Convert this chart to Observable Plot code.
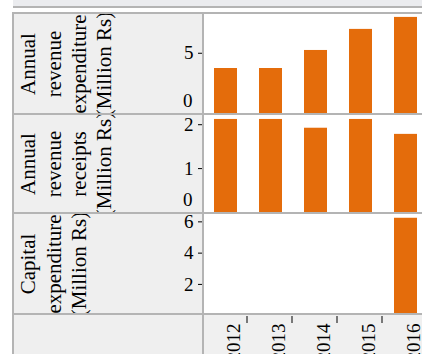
<!DOCTYPE html>
<html>
<head>
<meta charset="utf-8">
<script src="https://cdn.jsdelivr.net/npm/d3@7"></script>
<script src="https://cdn.jsdelivr.net/npm/@observablehq/plot@0.6"></script>
<style>
  html, body { margin: 0; padding: 0; background: white; }
  #wrap { position: relative; width: 422px; height: 354px; overflow: hidden; background: white; font-family: "Liberation Serif", serif; }
  .abs { position: absolute; }
  .line { position: absolute; background: #b4b4b4; }
</style>
</head>
<body>
<div id="wrap"></div>
<script>
// ---- data ----
const years = ["2012", "2013", "2014", "2015", "2016"];
const revenueExpenditure = [3.74, 3.74, 5.23, 6.97, 7.96];
const revenueReceipts = [2.12, 2.12, 1.92, 2.12, 1.78];
const capitalExpenditure = [0, 0, 0, 0, 6.23];
const panelLabels = [
  "Annual\nrevenue\nexpenditure\n(Million Rs)",
  "Annual\nrevenue\nreceipts\n(Million Rs)",
  "Capital\nexpenditure\n(Million Rs)"
];
const panelTicks = [[5], [1, 2], [2, 4, 6]];
const panelZeroLabel = [true, true, false];
const panelDomainMax = [8.2, 2.21, 6.47];

const orange = "#e46c0b";
const wrap = document.getElementById("wrap");

function box(cls, css) {
  const d = document.createElement("div");
  d.className = cls;
  Object.assign(d.style, css);
  wrap.appendChild(d);
  return d;
}

// backgrounds
box("abs", {left: "13px", top: "0px", width: "409px", height: "6px", background: "#ebecef"});
box("abs", {left: "13px", top: "14px", width: "190px", height: "340px", background: "#efefef"});
box("abs", {left: "203px", top: "315px", width: "219px", height: "39px", background: "#f0f0f0"});

const xScale = {type: "band", domain: years, range: [202.75, 427.75], paddingInner: 0.5, paddingOuter: 0.25, axis: null};
const baseStyle = {background: "transparent", fontFamily: "Liberation Serif", fontSize: "19px", color: "black", overflow: "hidden"};

const series = [revenueExpenditure, revenueReceipts, capitalExpenditure];
const geom = [
  {top: 14, height: 99, bottom: 99.3},
  {top: 115, height: 97, bottom: 97},
  {top: 214, height: 99, bottom: 101.2}
];

series.forEach((vals, i) => {
  const data = years.map((y, j) => ({year: y, value: vals[j]}));
  const marks = [
    Plot.barY(data.filter(d => d.value > 0), {x: "year", y: "value", fill: orange}),
    Plot.axisY(panelTicks[i], {anchor: "left", tickSize: 5, tickPadding: 5, fontSize: 19, label: null}),
    Plot.text([panelLabels[i]], {
      frameAnchor: "left", dx: -186, rotate: -90, textAnchor: "middle",
      lineAnchor: "top", lineHeight: 1.2, fontSize: 21
    })
  ];
  if (panelZeroLabel[i]) {
    marks.push(Plot.text([0], {y: d => d, frameAnchor: "left", textAnchor: "end", dx: -11, dy: -13, fontSize: 19}));
  }
  const p = Plot.plot({
    width: 422, height: geom[i].height,
    marginTop: 0, marginBottom: 0, marginLeft: 203, marginRight: 0,
    style: baseStyle,
    x: xScale,
    y: {domain: [0, panelDomainMax[i]], range: [geom[i].bottom, 0], axis: null},
    marks
  });
  p.style.position = "absolute";
  p.style.left = "0px";
  p.style.top = geom[i].top + "px";
  wrap.appendChild(p);
});

// bottom x axis
const xa = Plot.plot({
  width: 422, height: 39,
  marginTop: 7, marginBottom: 0, marginLeft: 203, marginRight: 0,
  style: baseStyle,
  x: xScale,
  marks: [
    Plot.axisX(years.slice(0, 4), {anchor: "top", tickSize: 7, dx: 21, tickFormat: () => "", label: null}),
    Plot.text(years, {x: d => d, text: d => d, frameAnchor: "top", rotate: -90, textAnchor: "end", dy: 1, fontSize: 19})
  ]
});
xa.style.position = "absolute";
xa.style.left = "0px";
xa.style.top = "315px";
wrap.appendChild(xa);

// borders
box("line", {left: "13px", top: "6px", width: "409px", height: "2px"});
box("line", {left: "12px", top: "12px", width: "410px", height: "2px"});
box("line", {left: "12px", top: "113px", width: "410px", height: "2px"});
box("line", {left: "12px", top: "212px", width: "410px", height: "2px"});
box("line", {left: "12px", top: "313px", width: "410px", height: "2px"});
box("line", {left: "12px", top: "12px", width: "2px", height: "342px"});
box("line", {left: "202px", top: "12px", width: "2px", height: "342px"});
</script>
</body>
</html>
